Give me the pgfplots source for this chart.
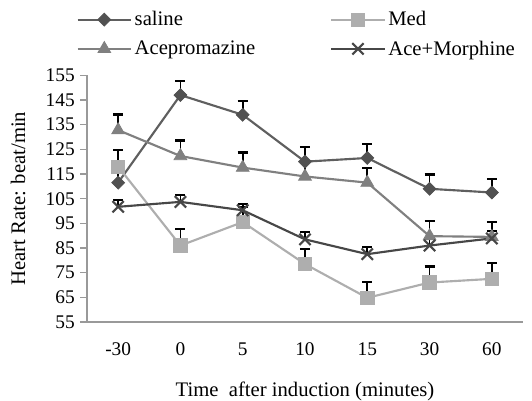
\documentclass[border=0pt]{standalone}
\usepackage{pgfplots}
\pgfplotsset{compat=1.18}
\usepackage{fontspec}
\setmainfont{Liberation Serif}
\definecolor{cSal}{HTML}{5F5F5F}
\definecolor{cMed}{HTML}{AEAEAE}
\definecolor{cAce}{HTML}{808080}
\definecolor{cAM}{HTML}{474747}
\begin{document}
\begin{tikzpicture}
\useasboundingbox (-65.25pt,-58.5pt) rectangle (333.75pt,241.5pt);
\begin{axis}[
  at={(0pt,0pt)}, anchor=south west,
  scale only axis,
  width=327pt, height=185pt,
  axis lines=left,
  axis line style={draw=gray!80, line width=0.8pt, -},
  xmin=-0.5, xmax=6.5,
  ymin=55, ymax=155,
  ytick={55,65,...,155},
  xtick={0,...,6},
  xticklabels={-30,0,5,10,15,30,60},
  extra x ticks={-0.5,0.5,1.5,2.5,3.5,4.5,5.5,6.5},
  extra x tick labels={},
  extra x tick style={major tick length=5pt, tick style={gray!80, line width=0.8pt}},
  x tick style={draw=none},
  y tick style={gray!80, line width=0.8pt},
  tick align=outside,
  major tick length=5pt,
  xticklabel style={anchor=north, inner sep=0pt, yshift=-10.5pt},
  yticklabel style={anchor=east, inner sep=0pt, xshift=-4pt},
  /pgf/number format/assume math mode=true,
  tick label style={font=\fontsize{14.5}{17}\selectfont},
  label style={font=\fontsize{15.5}{18}\selectfont},
  ylabel={Heart Rate: beat/min},
  xlabel={Time\ \ after induction (minutes)},
  xlabel style={at={(axis description cs:0.5,-0.3)}, anchor=base},
  ylabel style={at={(axis description cs:-0.142,0.5)}, anchor=base},
  legend columns=2,
  legend style={at={(axis description cs:-0.0245,1.2708)}, anchor=north west, draw=none, fill=none,
    inner sep=0pt, nodes={inner sep=2pt},
    font=\fontsize{15.5}{18}\selectfont, /tikz/every even column/.append style={column sep=54.25pt},
    row sep=5.65pt},
  legend cell align=left,
  legend image code/.code={
    \draw[line width=1.6pt,mark repeat=2,mark phase=2,#1] plot coordinates {(0pt,0pt) (20pt,0pt) (40pt,0pt)};},
  every axis plot/.append style={line width=1.6pt},
  error bars/y dir=plus, error bars/y explicit,
  error bars/error bar style={black, line width=1.2pt},
  error bars/error mark options={black, line width=1.6pt, rotate=90, mark size=3.75pt},
]
\addplot[cSal, mark=square*, mark size=3.4pt, mark options={rotate=45, fill=cSal!85!black, draw=cSal!85!black, line width=0.6pt}]
  coordinates {(0,111.5)+-(0,5.5) (1,147)+-(0,5.8) (2,139)+-(0,5.5) (3,120)+-(0,5.8) (4,121.5)+-(0,5.8) (5,109)+-(0,5.8) (6,107.5)+-(0,5.4)};
\addlegendentry{saline}
\addplot[cMed, mark=square*, mark size=5pt, mark options={fill=cMed, draw=cMed, line width=0.6pt}]
  coordinates {(0,118)+-(0,6.8) (1,86)+-(0,6.8) (2,95.5)+-(0,6) (3,78.5)+-(0,6) (4,64.8)+-(0,6.4) (5,71)+-(0,6.5) (6,72.5)+-(0,6.5)};
\addlegendentry{Med}
\addplot[cAce, mark=triangle*, mark size=5.5pt, mark options={fill=cAce, draw=cAce, line width=0.6pt}]
  coordinates {(0,132.8)+-(0,6.3) (1,122.3)+-(0,6.3) (2,117.6)+-(0,6.1) (3,114)+-(0,6) (4,111.5)+-(0,6) (5,89.8)+-(0,6) (6,89.5)+-(0,6)};
\addlegendentry{Acepromazine}
\addplot[cAM, mark=x, mark size=6pt, mark options={draw=cAM, line width=1.6pt}]
  coordinates {(0,101.7)+-(0,2.7) (1,103.7)+-(0,2.7) (2,100.3)+-(0,2.7) (3,88.5)+-(0,3) (4,82.5)+-(0,3) (5,86)+-(0,3) (6,88.9)+-(0,3)};
\addlegendentry{Ace+Morphine}
\end{axis}
\end{tikzpicture}
\end{document}
